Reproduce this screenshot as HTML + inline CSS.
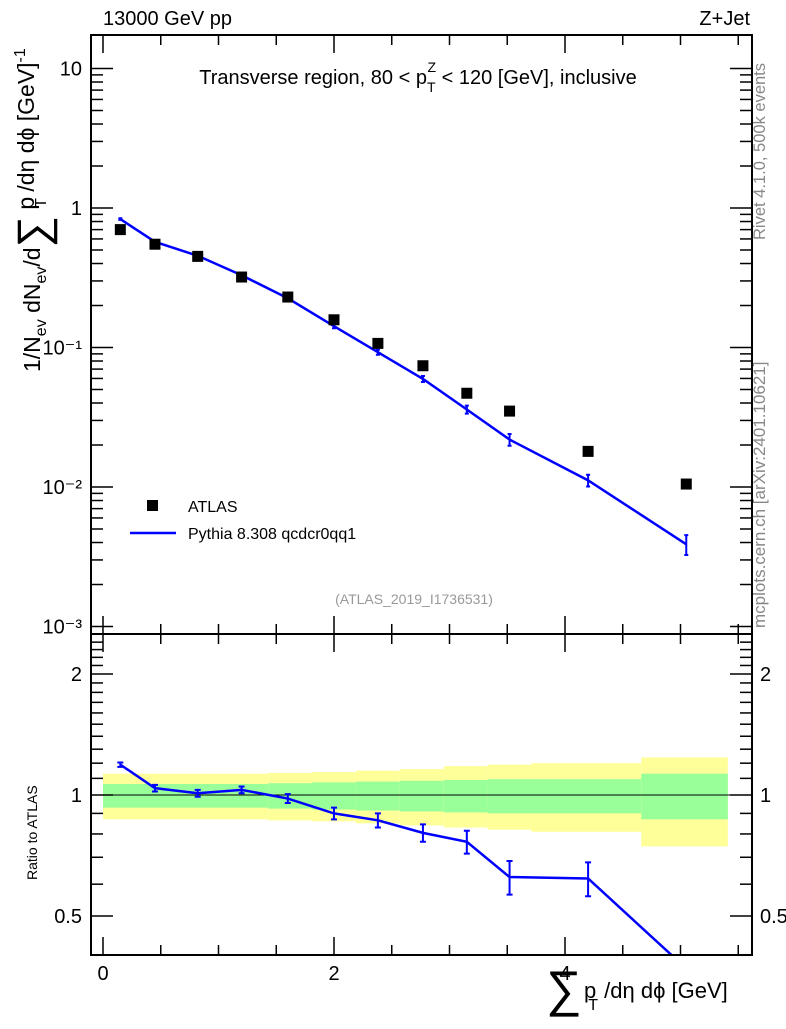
<!DOCTYPE html>
<html><head><meta charset="utf-8"><style>
body{margin:0;background:#fff}
svg{font-family:"Liberation Sans",sans-serif}
</style></head><body>
<svg id="c" width="786" height="1024" xmlns="http://www.w3.org/2000/svg">
<text x="103" y="25" font-size="20">13000 GeV pp</text>
<text x="750" y="25" font-size="20" text-anchor="end">Z+Jet</text>
<text x="418" y="84" font-size="20" text-anchor="middle">Transverse region, 80 &lt; p<tspan font-size="14" dy="8">T</tspan><tspan font-size="14" dx="-8" dy="-20">Z</tspan><tspan dy="12"> &lt; 120 [GeV], inclusive</tspan></text>
<text x="414" y="604" font-size="14" fill="#999" text-anchor="middle">(ATLAS_2019_I1736531)</text>
<text transform="translate(765,240) rotate(-90)" font-size="16.5" fill="#888">Rivet 4.1.0,  500k events</text>
<text transform="translate(765,628) rotate(-90)" font-size="17" fill="#888">mcplots.cern.ch [arXiv:2401.10621]</text>
<text transform="translate(40,372) rotate(-90)" font-size="23">1/N<tspan font-size="16" dy="6">ev</tspan><tspan dy="-6"> dN</tspan><tspan font-size="16" dy="6">ev</tspan><tspan dy="-6">/d</tspan><tspan font-size="44" dy="8">∑</tspan><tspan dy="-14"> p</tspan><tspan font-size="16" dy="12" dx="-11">T</tspan><tspan dy="-12"> /dη dϕ  [GeV]</tspan><tspan font-size="16" dy="-9">-1</tspan></text>
<text transform="translate(37,880) rotate(-90)" font-size="14">Ratio to ATLAS</text>
<text x="546" y="1006" font-size="50">∑</text>
<text x="584" y="998" font-size="22">p<tspan font-size="16" dy="12" dx="-8">T</tspan><tspan dy="-12"> /dη dϕ [GeV]</tspan></text>
<g id="g"></g>
</svg>
<script>
const xCenters=[0.15,0.45,0.82,1.2,1.6,2.0,2.38,2.77,3.15,3.52,4.2,5.05];
const atlas=[0.7,0.55,0.45,0.32,0.23,0.158,0.107,0.074,0.047,0.035,0.018,0.0105];
const ratio=[1.19,1.04,1.01,1.03,0.98,0.90,0.865,0.805,0.765,0.625,0.62,0.37];
const ratioErr=[0.015,0.02,0.02,0.02,0.025,0.03,0.035,0.04,0.05,0.06,0.06,0.06];
const binEdges=[0,1.43,1.81,2.19,2.57,2.95,3.33,3.71,4.66,5.41];
const yelUp=[1.13,1.135,1.14,1.15,1.16,1.18,1.19,1.20,1.24];
const yelLo=[0.87,0.865,0.86,0.85,0.84,0.83,0.82,0.81,0.745];
const grnUp=[1.065,1.07,1.075,1.08,1.085,1.09,1.095,1.095,1.13];
const grnLo=[0.93,0.925,0.92,0.915,0.91,0.905,0.9,0.9,0.87];
const xTicks=[0,2,4];
const yTicks=[10,1,0.1,0.01,0.001];
const yTickLabels=["10","1","10⁻¹","10⁻²","10⁻³"];
const rTicks=[0.5,1,2];

const L=91,R=752,T=35,M=634,B=955;
const X=v=>103+v*115.5;
const Y=v=>208-Math.log10(v)*139.5;
const RY=v=>795-Math.log10(v)*402;
const NS="http://www.w3.org/2000/svg";
const g=document.getElementById('g');
function mk(t,a){const e=document.createElementNS(NS,t);for(const k in a)e.setAttribute(k,a[k]);g.appendChild(e);return e;}

const cp=mk('clipPath',{id:'rc'});g.removeChild(cp);document.getElementById('c').appendChild(cp);
const cr=document.createElementNS(NS,'rect');cr.setAttribute('x',L);cr.setAttribute('y',M);cr.setAttribute('width',R-L);cr.setAttribute('height',B-M);cp.appendChild(cr);
for(let i=0;i<binEdges.length-1;i++){
 let e=mk('rect',{x:X(binEdges[i]),y:RY(yelUp[i]),width:X(binEdges[i+1])-X(binEdges[i]),height:RY(yelLo[i])-RY(yelUp[i]),fill:'#ffff99'});
 
 
 e=mk('rect',{x:X(binEdges[i]),y:RY(grnUp[i]),width:X(binEdges[i+1])-X(binEdges[i]),height:RY(grnLo[i])-RY(grnUp[i]),fill:'#99ff99'});
 
 
}
let ln=mk('line',{x1:L,x2:R,y1:RY(1),y2:RY(1),stroke:'#000','stroke-width':1});



const mc=atlas.map((a,i)=>a*ratio[i]);
let p=mk('polyline',{points:xCenters.map((x,i)=>X(x)+','+Y(mc[i])).join(' '),fill:'none',stroke:'#0000ff','stroke-width':2.5});


xCenters.forEach((x,i)=>{
 const hi=mc[i]*(1+ratioErr[i]/ratio[i]),lo=mc[i]*(1-ratioErr[i]/ratio[i]);
 const e=mk('path',{d:`M${X(x)},${Y(hi)}V${Y(lo)}M${X(x)-2},${Y(hi)}h4M${X(x)-2},${Y(lo)}h4`,stroke:'#0000ff','stroke-width':2,fill:'none'});
 
 
 const s=mk('rect',{x:X(x)-5.5,y:Y(atlas[i])-5.5,width:11,height:11,fill:'#000'});
 
 
});
p=mk('polyline',{points:xCenters.map((x,i)=>X(x)+','+RY(ratio[i])).join(' '),fill:'none',stroke:'#0000ff','stroke-width':2.5,'clip-path':'url(#rc)'});


xCenters.forEach((x,i)=>{
 if(RY(ratio[i])>B)return;
 const hi=ratio[i]+ratioErr[i],lo=ratio[i]-ratioErr[i];
 const e=mk('path',{d:`M${X(x)},${RY(hi)}V${RY(lo)}M${X(x)-3},${RY(hi)}h6M${X(x)-3},${RY(lo)}h6`,stroke:'#0000ff','stroke-width':2,fill:'none'});
 
 
});

[[T,M],[M,B]].forEach(([a,b])=>{const f=mk('rect',{x:L,y:a,width:R-L,height:b-a,fill:'none',stroke:'#000','stroke-width':2});
 
 });
for(let v=0;v<=5.6;v+=0.5){
 const big=Math.abs(v%2)<1e-6, len=big?18:10;
 [[T,1],[M,-1],[M,1],[B,-1]].forEach(([y,d])=>mk('line',{x1:X(v),x2:X(v),y1:y,y2:y+d*len,stroke:'#000','stroke-width':1.5}));
}
xTicks.forEach(v=>{const t=mk('text',{x:X(v),y:980,'font-size':20,'text-anchor':'middle'});t.textContent=v;
 
 });
for(let d=-3;d<=1;d++){for(let k=1;k<10;k++){const v=k*Math.pow(10,d);const y=Y(v);if(y<T||y>M)continue;const len=k==1?22:12;
 mk('line',{x1:L,x2:L+len,y1:y,y2:y,stroke:'#000','stroke-width':1.5});mk('line',{x1:R,x2:R-len,y1:y,y2:y,stroke:'#000','stroke-width':1.5});}}
yTicks.forEach((v,i)=>{const t=mk('text',{x:82,y:Y(v)+7,'font-size':20,'text-anchor':'end'});t.textContent=yTickLabels[i];
 
 });
for(let v=0.4;v<=2.5;v+=0.1){const y=RY(v);if(y<M||y>B)continue;const big=[0.5,1,2].some(q=>Math.abs(q-v)<1e-6);const len=big?22:12;
 if(v>1.05&&Math.abs(v*10-Math.round(v*10))>1e-6)continue;
 mk('line',{x1:L,x2:L+len,y1:y,y2:y,stroke:'#000','stroke-width':1.5});mk('line',{x1:R,x2:R-len,y1:y,y2:y,stroke:'#000','stroke-width':1.5});}
rTicks.forEach(v=>{[[82,'end'],[760,'start']].forEach(([x,a])=>{const t=mk('text',{x:x,y:RY(v)+7,'font-size':20,'text-anchor':a});t.textContent=v;
 
 });});
let lg=mk('rect',{x:147,y:500,width:11,height:11,fill:'#000'});


lg=mk('text',{x:188,y:512,'font-size':16});lg.textContent='ATLAS';


lg=mk('line',{x1:130,x2:176,y1:533,y2:533,stroke:'#0000ff','stroke-width':2.5});


lg=mk('text',{x:188,y:539,'font-size':16});lg.textContent='Pythia 8.308 qcdcr0qq1';


</script>
</body></html>
